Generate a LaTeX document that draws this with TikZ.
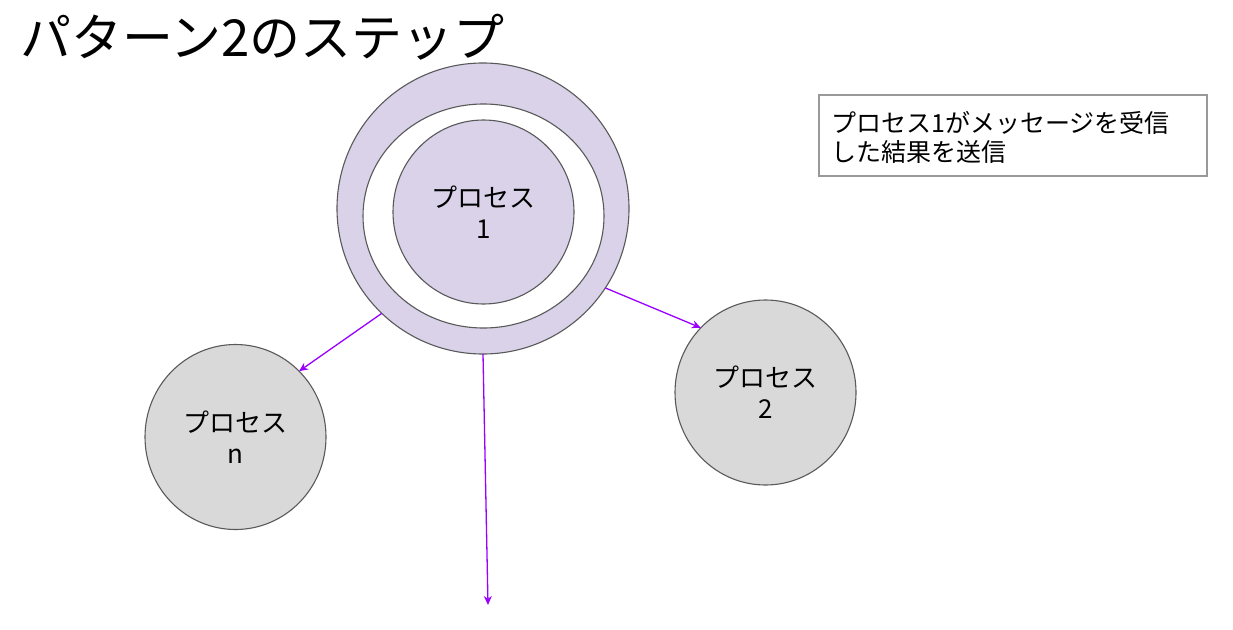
\documentclass[tikz,border=0pt]{standalone}
\usepackage{fontspec}
\setmainfont{Noto Sans CJK JP}
\usetikzlibrary{arrows.meta,shapes.geometric}
\definecolor{lav}{HTML}{D9D2E9}
\definecolor{gfill}{HTML}{D9D9D9}
\definecolor{edge}{HTML}{595959}
\definecolor{purp}{HTML}{9900FF}
\definecolor{boxedge}{HTML}{999999}
\begin{document}
\begin{tikzpicture}[x=1pt,y=-1pt,
  circ/.style={ellipse,draw=edge,line width=1.1pt,inner sep=0pt,outer sep=0pt,align=center,font=\fontsize{26}{31}\selectfont},
  conn/.style={draw=purp,line width=1.3pt,-{Stealth[length=9pt,width=8pt]}},
  note/.style={draw=boxedge,line width=1.2pt,minimum width=388pt,minimum height=81pt,inner sep=0pt,outer sep=0pt}
]
\useasboundingbox (0,0) rectangle (1233,629);
\node[anchor=west,inner sep=0pt,font=\fontsize{51}{56}\selectfont] (title) at (20,37) {パターン2のステップ};
\node[circ,fill=lav,minimum width=292pt,minimum height=291pt] (p1outer) at (483,208.5) {};
\node[circ,fill=white,minimum width=241pt,minimum height=224pt] (p1mid) at (483.5,216) {};
\node[circ,fill=lav,minimum width=181pt,minimum height=184pt] (p1) at (483.5,212) {プロセス\\1};
\node[circ,fill=gfill,minimum width=181pt,minimum height=185pt] (pn) at (235.5,437) {プロセス\\n};
\node[circ,fill=gfill,minimum width=181pt,minimum height=185pt] (p2) at (765.5,392.5) {プロセス\\2};
\node[note] (box) at (1013,135.5) {};
\node[anchor=west,align=left,inner sep=0pt,font=\fontsize{25}{29}\selectfont] (boxtext) at (831,137.5) {プロセス1がメッセージを受信\\した結果を送信};
\coordinate (bend) at (488,605);
\draw[conn] (p1outer.226) -- (pn.46);
\draw[conn] (p1outer.-33) -- (p2.135);
\draw[conn] (p1outer.south) -- (bend);
\end{tikzpicture}
\end{document}
